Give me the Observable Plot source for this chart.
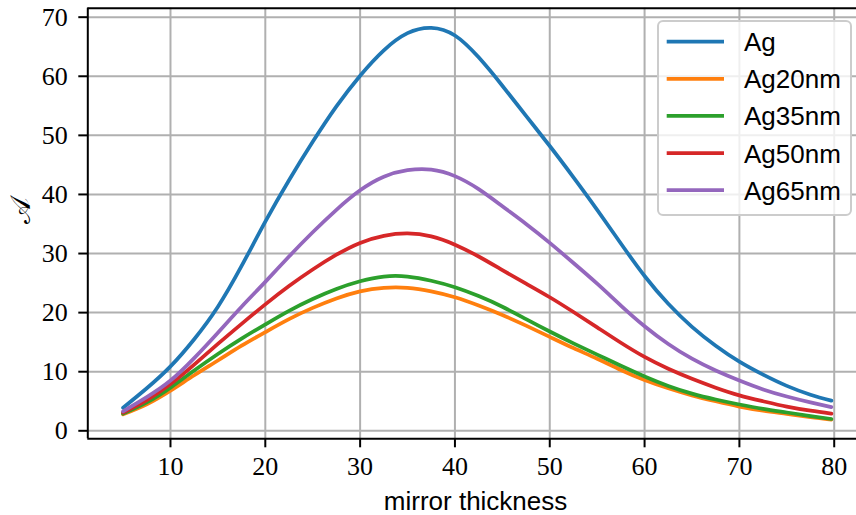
<!DOCTYPE html>
<html><head><meta charset="utf-8">
<script src="https://cdn.jsdelivr.net/npm/d3@7"></script>
<script src="https://cdn.jsdelivr.net/npm/@observablehq/plot@0.6"></script>
<style>body{margin:0;background:#fff;} #chart{width:856px;height:515px;overflow:hidden;}</style>
</head><body><div id="chart"></div>
<script>
// mirror thickness (x)
const thickness = [5, 7.5, 10, 12.5, 15, 17.5, 20, 22.5, 25, 27.5, 30, 32.5, 35, 37.5, 40, 42.5, 45, 47.5, 50, 52.5, 55, 57.5, 60, 62.5, 65, 67.5, 70, 72.5, 75, 77.5, 79.7];
// A values per series
const Ag     = [3.9, 7.2, 10.9, 15.5, 21.0, 27.9, 35.4, 42.4, 48.9, 54.9, 60.1, 64.4, 67.3, 68.2, 66.9, 63.2, 58.4, 53.3, 48.2, 42.9, 37.4, 31.7, 26.2, 21.5, 17.6, 14.4, 11.7, 9.5, 7.6, 6.1, 5.1];
const Ag20nm = [2.8, 4.5, 6.8, 9.4, 11.9, 14.4, 16.7, 18.9, 20.8, 22.4, 23.6, 24.2, 24.2, 23.6, 22.6, 21.2, 19.6, 17.8, 15.9, 14.0, 12.2, 10.3, 8.6, 7.2, 6.0, 5.0, 4.1, 3.4, 2.85, 2.3, 1.9];
const Ag35nm = [2.9, 4.8, 7.3, 10.2, 13.0, 15.6, 18.0, 20.3, 22.3, 24.0, 25.3, 26.1, 26.1, 25.4, 24.3, 22.8, 21.0, 18.9, 16.8, 14.8, 12.9, 11.0, 9.2, 7.6, 6.3, 5.3, 4.45, 3.7, 3.1, 2.5, 2.0];
const Ag50nm = [3.1, 5.2, 7.9, 11.2, 14.7, 18.1, 21.4, 24.5, 27.3, 29.8, 31.8, 33.0, 33.4, 32.9, 31.5, 29.5, 27.2, 24.9, 22.6, 20.1, 17.5, 14.9, 12.5, 10.5, 8.8, 7.3, 6.0, 5.0, 4.1, 3.4, 2.9];
const Ag65nm = [3.3, 5.7, 8.5, 12.3, 16.6, 21.0, 25.2, 29.5, 33.6, 37.4, 40.7, 43.0, 44.1, 44.2, 43.1, 40.9, 38.0, 35.0, 31.8, 28.4, 24.9, 21.2, 17.7, 14.7, 12.2, 10.2, 8.5, 7.0, 5.8, 4.8, 4.0];

const seriesNames = ["Ag", "Ag20nm", "Ag35nm", "Ag50nm", "Ag65nm"];
const seriesValues = [Ag, Ag20nm, Ag35nm, Ag50nm, Ag65nm];
const seriesColors = ["#1f77b4", "#ff7f0e", "#2ca02c", "#d62728", "#9467bd"];
const xTicks = [10, 20, 30, 40, 50, 60, 70, 80];
const yTicks = [0, 10, 20, 30, 40, 50, 60, 70];
const xLabel = "mirror thickness";
const yLabel = "\u{1D49C}";

const data = seriesNames.flatMap((s, i) => thickness.map((t, j) => ({series: s, t, v: seriesValues[i][j]})));

const W = 856, H = 515, ML = 87.3, MT = 7.7, MB = 76.7;
const xDomain = [1.28, 82.35], yDomain = [-1.354, 71.52];
const serif = "'Liberation Serif', 'DejaVu Serif', serif";
const sans = "'Liberation Sans', Arial, Helvetica, sans-serif";

const plot = Plot.plot({
  width: W, height: H,
  marginLeft: ML, marginRight: 0, marginTop: MT, marginBottom: MB,
  style: {background: "white", overflow: "hidden"},
  x: {domain: xDomain},
  y: {domain: yDomain},
  color: {domain: seriesNames, range: seriesColors},
  marks: [
    Plot.gridX(xTicks, {stroke: "#b0b0b0", strokeOpacity: 1, strokeWidth: 2}),
    Plot.gridY(yTicks, {stroke: "#b0b0b0", strokeOpacity: 1, strokeWidth: 2}),
    Plot.line(data, {x: "t", y: "v", z: "series", stroke: "series", strokeWidth: 3.75, curve: "natural"}),
    Plot.ruleX([xDomain[0]], {stroke: "black", strokeWidth: 2}),
    Plot.ruleY([yDomain[0], yDomain[1]], {stroke: "black", strokeWidth: 2}),
    Plot.axisX({ticks: xTicks, tickSize: 9, tickPadding: 9, strokeWidth: 2, stroke: "black", fill: "black",
      fontSize: 26, fontFamily: serif, label: null}),
    Plot.axisY({ticks: yTicks, tickSize: 9, tickPadding: 11, strokeWidth: 2, stroke: "black", fill: "black",
      fontSize: 26, fontFamily: serif, label: null}),
    Plot.text([xLabel], {frameAnchor: "bottom", text: d => d, dx: 3.4, dy: 70.7, lineAnchor: "bottom",
      fontSize: 26, fontFamily: sans, fill: "black"}),
    Plot.text([yLabel], {frameAnchor: "left", text: d => d, dx: -67, rotate: -90,
      fontSize: 28, fontFamily: "'DejaVu Serif', 'DejaVu Sans', serif", fill: "black"})
  ]
});

// legend (inside plot, upper right)
const svg = d3.select(plot);
const lg = svg.append("g").attr("text-anchor", "start");
lg.append("rect").attr("x", 658).attr("y", 21).attr("width", 193).attr("height", 194)
  .attr("rx", 5).attr("fill", "white").attr("fill-opacity", 0.8)
  .attr("stroke", "#cccccc").attr("stroke-width", 2);
seriesNames.forEach((s, i) => {
  const yy = 41.7 + i * 37.1;
  lg.append("line").attr("x1", 666.7).attr("x2", 724).attr("y1", yy).attr("y2", yy)
    .attr("stroke", seriesColors[i]).attr("stroke-width", 3.75);
  lg.append("text").attr("x", 744).attr("y", yy + 9.5).text(s)
    .attr("text-anchor", "start")
    .attr("font-family", sans).attr("font-size", 26).attr("fill", "black");
});

document.getElementById("chart").appendChild(plot);
</script>
</body></html>
